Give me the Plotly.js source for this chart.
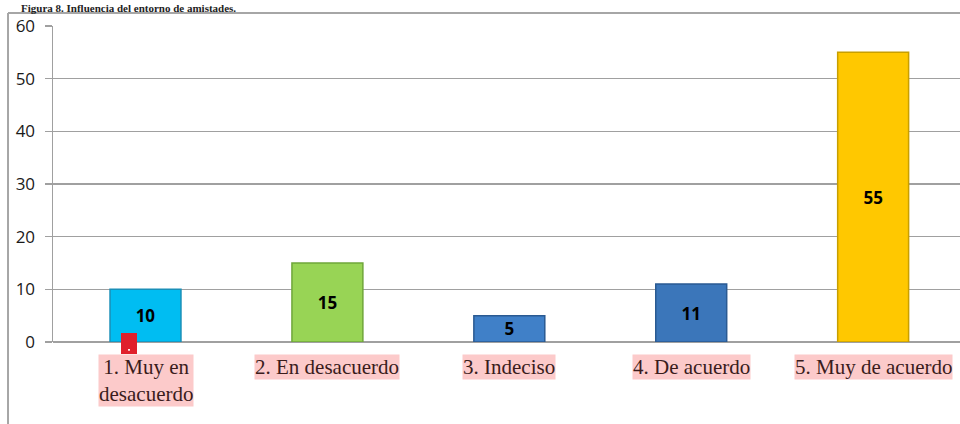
<!DOCTYPE html>
<html>
<head>
<meta charset="utf-8">
<script src="https://cdn.plot.ly/plotly-3.0.1.min.js"></script>
<style>html,body{margin:0;padding:0;background:#fff;}#chart{width:960px;height:424px;}</style>
</head>
<body>
<div id="chart"></div>
<script>
const categories = ["1. Muy en<br>desacuerdo", "2. En desacuerdo", "3. Indeciso", "4. De acuerdo", "5. Muy de acuerdo"];
const values = [10, 15, 5, 11, 55];
const barColors = ["#00bdf2", "#98d455", "#4080c8", "#3b76ba", "#ffc800"];
const barLines = ["#1a8fb8", "#6fa63a", "#2a5a92", "#2a5a92", "#c89f00"];
const yTicks = [0, 10, 20, 30, 40, 50, 60];
const titleText = "Figura 8. Influencia del entorno de amistades.";

const xIdx = categories.map((c, i) => i);

const trace = {
  type: "bar",
  x: xIdx,
  y: values,
  width: 0.39,
  marker: { color: barColors, line: { color: barLines, width: 1.5 } },
  text: values.map(String),
  textposition: "inside",
  insidetextanchor: "middle",
  constraintext: "none",
  textangle: 0,
  textfont: { family: "Open Sans, Lato, sans-serif", size: 17, color: "#000", weight: "bold" },
  hoverinfo: "none"
};

const labelAnns = categories.map((c, i) => ({
  x: i, y: 0, xref: "x", yref: "y",
  yshift: -12,
  text: c, showarrow: false,
  xanchor: "center", yanchor: "top",
  align: "center",
  font: { family: "Liberation Serif, Times New Roman, serif", size: 21, color: "#3a1c1c" },
  bgcolor: "#fccaca",
  borderpad: 0
}));

const layout = {
  width: 960, height: 424,
  margin: { l: 53, r: 0, t: 26, b: 82 },
  paper_bgcolor: "#fff", plot_bgcolor: "#fff",
  showlegend: false,
  uniformtext: { mode: false },
  xaxis: {
    range: [-0.5085, 4.4775],
    showticklabels: false, ticks: "",
    showgrid: false, zeroline: false,
    showline: false, fixedrange: true
  },
  yaxis: {
    range: [0, 60],
    tickvals: yTicks,
    ticktext: yTicks.map(String),
    ticks: "outside", ticklen: 7, tickcolor: "#a0a0a0", tickwidth: 1.5,
    ticklabelstandoff: 6,
    showgrid: true, gridcolor: "#a0a0a0", gridwidth: 1.5,
    zeroline: true, zerolinecolor: "#a0a0a0", zerolinewidth: 1.5,
    showline: true, linecolor: "#a0a0a0", linewidth: 1.5,
    tickfont: { family: "Open Sans, Lato, sans-serif", size: 17, color: "#1a1a1a" },
    fixedrange: true
  },
  annotations: labelAnns.concat([
    {
      xref: "paper", yref: "paper",
      x: -0.038, y: 1.082,
      xanchor: "left", yanchor: "top",
      text: "<b>" + titleText + "</b>",
      showarrow: false,
      font: { family: "Liberation Serif, Times New Roman, serif", size: 11, color: "#222" }
    }
  ]),
  shapes: [
    { type: "line", xref: "paper", yref: "paper", x0: -0.0496, x1: 1.01, y0: 1.041, y1: 1.041,
      line: { color: "#a6a6a6", width: 2 } },
    { type: "line", xref: "paper", yref: "paper", x0: -0.0496, x1: -0.0496, y0: 1.041, y1: -0.3,
      line: { color: "#a6a6a6", width: 2 } },
    { type: "rect", xref: "paper", yref: "paper", x0: 0.075, x1: 0.0926, y0: 0.0285, y1: -0.038,
      fillcolor: "#e0202c", line: { width: 0 }, layer: "above" },
    { type: "rect", xref: "paper", yref: "paper", x0: 0.0828, x1: 0.0848, y0: -0.022, y1: -0.028,
      fillcolor: "#ffffff", line: { width: 0 }, layer: "above" }
  ]
};

Plotly.newPlot("chart", [trace], layout, { displayModeBar: false, staticPlot: true });
</script>
</body>
</html>
